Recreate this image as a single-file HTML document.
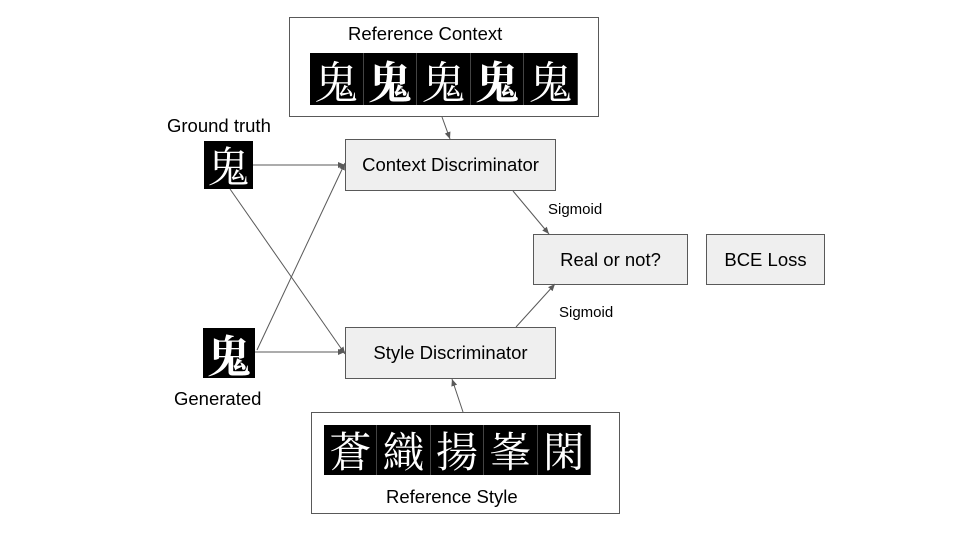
<!DOCTYPE html>
<html><head><meta charset="utf-8"><style>
body{margin:0;width:960px;height:540px;background:#fff;position:relative;overflow:hidden;font-family:"Liberation Sans",sans-serif;color:#000}
.b{position:absolute;box-sizing:border-box;border:1px solid #595959}
.g{background:#efefef;display:flex;align-items:center;justify-content:center;font-size:18.5px}
.t{position:absolute;font-size:18.5px;white-space:nowrap}
.s{position:absolute;font-size:15px}
.strip{position:absolute;background:#000;display:flex}
.strip span{flex:1;color:#fff;font-family:"Noto Serif CJK SC","Noto Sans CJK SC",serif;text-align:center;border-right:1px solid #444;box-sizing:border-box;overflow:hidden}
.c{position:absolute;background:#000;color:#fff;font-family:"Noto Serif CJK SC",serif;text-align:center;overflow:hidden}
svg{position:absolute;left:0;top:0}
</style></head><body>
<div class="b" style="left:289px;top:17px;width:310px;height:100px"></div>
<div class="t" style="left:348px;top:23px">Reference Context</div>
<div class="strip" style="left:310px;top:53px;width:268px;height:52px"><span style="font-size:44px;line-height:52px">鬼</span><span style="font-size:44px;line-height:52px;font-weight:bold">鬼</span><span style="font-size:44px;line-height:52px">鬼</span><span style="font-size:44px;line-height:52px;font-weight:bold">鬼</span><span style="font-size:44px;line-height:52px">鬼</span></div>
<div class="b g" style="left:345px;top:139px;width:211px;height:52px">Context Discriminator</div>
<div class="b g" style="left:533px;top:234px;width:155px;height:51px">Real or not?</div>
<div class="b g" style="left:706px;top:234px;width:119px;height:51px">BCE Loss</div>
<div class="b g" style="left:345px;top:327px;width:211px;height:52px">Style Discriminator</div>
<div class="b" style="left:311px;top:412px;width:309px;height:102px"></div>
<div class="strip" style="left:324px;top:425px;width:267px;height:50px"><span style="font-size:42px;line-height:50px">蒼</span><span style="font-size:42px;line-height:50px">織</span><span style="font-size:42px;line-height:50px">揚</span><span style="font-size:42px;line-height:50px">峯</span><span style="font-size:42px;line-height:50px">閑</span></div>
<div class="t" style="left:386px;top:486px">Reference Style</div>
<div class="t" style="left:167px;top:115px">Ground truth</div>
<div class="c" style="left:204px;top:141px;width:49px;height:48px;font-size:42px;line-height:48px">鬼</div>
<div class="c" style="left:203px;top:328px;width:52px;height:50px;font-size:44px;line-height:50px;font-weight:bold">鬼</div>
<div class="t" style="left:174px;top:388px">Generated</div>
<div class="s" style="left:548px;top:201px">Sigmoid</div>
<div class="s" style="left:559px;top:304px">Sigmoid</div>
<svg width="960" height="540"><defs><marker id="a" markerWidth="8" markerHeight="8" refX="7" refY="4" orient="auto" markerUnits="userSpaceOnUse"><path d="M0,1 L7,4 L0,7z" fill="#595959"/></marker></defs>
<g stroke="#595959" stroke-width="1" fill="none" marker-end="url(#a)">
<line x1="442" y1="117" x2="450" y2="139"/>
<line x1="253" y1="165" x2="345" y2="165"/>
<line x1="230" y1="189" x2="345" y2="354"/>
<line x1="255" y1="352" x2="345" y2="352"/>
<line x1="257" y1="350" x2="345" y2="163"/>
<line x1="513" y1="191" x2="549" y2="234"/>
<line x1="516" y1="327" x2="555" y2="284"/>
<line x1="463" y1="412" x2="452" y2="379"/>
</g></svg>
</body></html>
